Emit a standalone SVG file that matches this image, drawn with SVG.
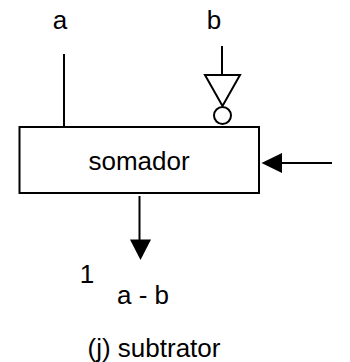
<svg xmlns="http://www.w3.org/2000/svg" width="350" height="362" viewBox="0 0 350 362">
<style>
text{font-family:"Liberation Sans",Arial,sans-serif;font-size:26px;fill:#000}
.l{fill:none;stroke:#000;stroke-width:2}
.h{fill:#000;stroke:none}
</style>
<rect width="350" height="362" fill="#fff"/>
<g id="connectors">
<line class="l" x1="64" y1="54" x2="64" y2="127"/>
<line class="l" x1="222" y1="46" x2="222" y2="75"/>
<line class="l" x1="332" y1="163" x2="278" y2="163"/>
<path class="h" d="M261.500 163L282 153V173Z"/>
<line class="l" x1="139.500" y1="196" x2="139.500" y2="243"/>
<path class="h" d="M130 239.500H151L140.500 260Z"/>
</g>
<g id="somador">
<rect class="l" x="19.500" y="127" width="239.500" height="66"/>
<text x="139" y="170" text-anchor="middle">somador</text>
</g>
<g id="inverter">
<path class="l" d="M205 75H240L222.500 106Z"/>
<circle class="l" cx="222.500" cy="115.500" r="8.500"/>
</g>
<g id="label-a"><text x="60" y="29" text-anchor="middle">a</text></g>
<g id="label-b"><text x="214" y="29" text-anchor="middle">b</text></g>
<g id="label-1"><text x="87" y="283" text-anchor="middle">1</text></g>
<g id="label-result"><text x="143" y="304" text-anchor="middle">a - b</text></g>
<g id="caption"><text x="154" y="357" text-anchor="middle">(j) subtrator</text></g>
</svg>
